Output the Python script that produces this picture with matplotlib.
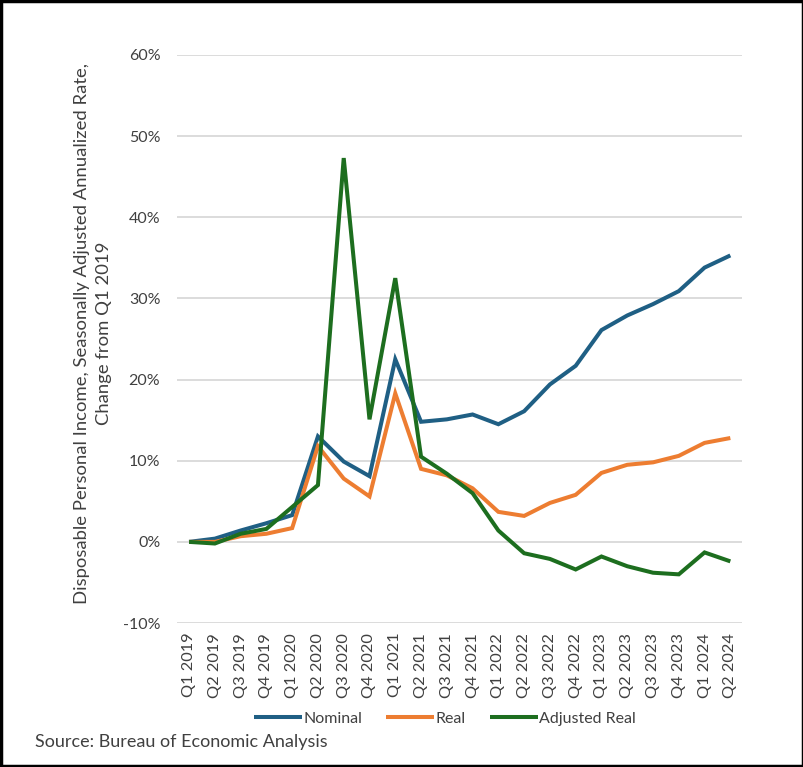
import matplotlib
matplotlib.use("Agg")
import matplotlib.pyplot as plt
from matplotlib.patches import Rectangle
from matplotlib.ticker import FuncFormatter

plt.rcParams['font.family'] = ['Lato', 'DejaVu Sans']

quarters = ["Q1 2019", "Q2 2019", "Q3 2019", "Q4 2019",
            "Q1 2020", "Q2 2020", "Q3 2020", "Q4 2020",
            "Q1 2021", "Q2 2021", "Q3 2021", "Q4 2021",
            "Q1 2022", "Q2 2022", "Q3 2022", "Q4 2022",
            "Q1 2023", "Q2 2023", "Q3 2023", "Q4 2023",
            "Q1 2024", "Q2 2024"]

nominal = [0.0, 0.4, 1.4, 2.3, 3.3, 13.0, 9.9, 8.1, 22.5, 14.8, 15.1, 15.7,
           14.5, 16.1, 19.4, 21.7, 26.1, 27.9, 29.3, 30.9, 33.8, 35.3]
real = [0.0, 0.0, 0.7, 1.0, 1.7, 11.8, 7.8, 5.6, 18.3, 9.0, 8.2, 6.6,
        3.7, 3.2, 4.8, 5.8, 8.5, 9.5, 9.8, 10.6, 12.2, 12.8]
adjusted_real = [0.0, -0.2, 1.0, 1.6, 4.3, 7.0, 47.3, 15.1, 32.5, 10.5, 8.4, 6.0,
                 1.4, -1.4, -2.1, -3.4, -1.8, -3.0, -3.8, -4.0, -1.3, -2.4]

series_names = ["Nominal", "Real", "Adjusted Real"]
colors = ["#1F5F84", "#ED7D31", "#1D6E1F"]

fig = plt.figure(figsize=(8.04, 7.67), dpi=100)
ax = fig.add_axes([0.2201, 0.1877, 0.7027, 0.7406])

x = list(range(len(quarters)))
for vals, name, c in zip([nominal, real, adjusted_real], series_names, colors):
    ax.plot(x, [v / 100 for v in vals], color=c, lw=2.9, label=name,
            solid_joinstyle='miter', solid_capstyle='butt')

ax.set_ylim(-0.10, 0.60)
ax.set_xlim(-0.47, 21.45)
ax.set_yticks([i / 10 for i in range(-1, 7)])
ax.yaxis.set_major_formatter(FuncFormatter(lambda v, p: f"{round(v*100)}%"))
ax.set_xticks(x)
ax.set_xticklabels(quarters, rotation=90)
ax.grid(axis='y', color='#D9D9D9', lw=1.3)
ax.set_axisbelow(True)
for s in ax.spines.values():
    s.set_visible(False)
ax.tick_params(axis='both', length=0, colors='#595959')
ax.tick_params(axis='y', pad=12, labelsize=11.5)
ax.tick_params(axis='x', pad=7, labelsize=11.8)
for lbl in ax.get_xticklabels() + ax.get_yticklabels():
    lbl.set_color('#404040')

fig.text(93 / 804, 1 - 333 / 767,
         "Disposable Personal Income, Seasonally Adjusted Annualized Rate,\nChange from Q1 2019",
         rotation=90, ha='center', va='center', multialignment='center',
         fontsize=13.3, color='#404040', linespacing=1.4)

fig.legend(loc='center', bbox_to_anchor=(445 / 804, 1 - 719 / 767), ncol=3,
           frameon=False, fontsize=11.5, handlelength=3.0, handletextpad=0.1,
           columnspacing=1.5, labelcolor='#404040')

fig.text(35 / 804, 1 - 742 / 767, "Source: Bureau of Economic Analysis",
         ha='left', va='center', fontsize=13, color='#404040')

fig.patches.append(Rectangle((0.0015, 0.0015), 0.997, 0.997, transform=fig.transFigure,
                             fill=False, edgecolor='black', lw=2.5))

fig.savefig("out.png", dpi=100)
